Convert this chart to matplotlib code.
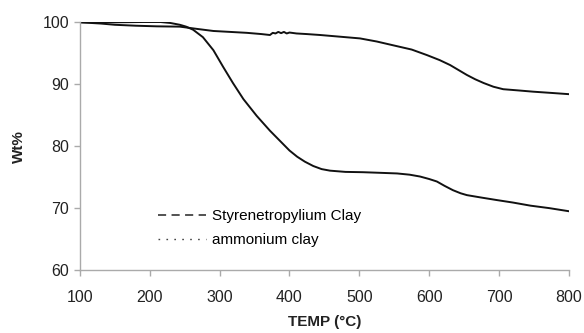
import numpy as np
import matplotlib.pyplot as plt
from matplotlib.lines import Line2D

plt.rcParams['font.family'] = ['Liberation Sans', 'DejaVu Sans']

# styrenetropylium clay (upper curve)
temp_a = [100, 130, 150, 180, 210, 243, 270, 291, 315, 339, 360, 372, 376, 380, 384,
          388, 392, 396, 400, 410, 425, 444, 470, 501, 525, 548, 575, 597, 615,
          630, 642, 654, 666, 678, 692, 706, 728, 749, 775, 800]
wt_a = [100.0, 99.8, 99.6, 99.45, 99.35, 99.3, 98.9, 98.6, 98.45, 98.3, 98.1, 97.95, 98.3, 98.2, 98.45,
        98.25, 98.45, 98.2, 98.35, 98.2, 98.1, 97.95, 97.7, 97.4, 96.9, 96.3, 95.6, 94.7, 93.9,
        93.1, 92.3, 91.5, 90.8, 90.2, 89.6, 89.2, 89.0, 88.8, 88.6, 88.4]

# ammonium clay (lower curve)
temp_b = [100, 150, 190, 215, 229, 243, 252, 262, 276, 291, 305, 319, 334, 353, 372,
          386, 400, 411, 422, 434, 446, 458, 480, 505, 530, 554, 572, 587, 600, 611,
          622, 634, 645, 654, 675, 697, 720, 745, 772, 800]
wt_b = [100.0, 100.0, 100.05, 100.05, 99.9, 99.6, 99.3, 98.8, 97.6, 95.5, 92.8, 90.2, 87.6, 84.9, 82.5,
        80.9, 79.3, 78.3, 77.5, 76.8, 76.3, 76.05, 75.85, 75.8, 75.7, 75.6, 75.4, 75.1, 74.7, 74.3,
        73.6, 72.9, 72.4, 72.1, 71.7, 71.3, 70.9, 70.4, 70.0, 69.5]

fig = plt.figure(figsize=(5.84, 3.33), dpi=100)
ax = fig.add_axes([0.137, 0.189, 0.837, 0.744])

ax.plot(temp_a, wt_a, color='#111111', lw=1.4, solid_joinstyle='round')
ax.plot(temp_b, wt_b, color='#111111', lw=1.4, solid_joinstyle='round')

ax.set_xlim(100, 800)
ax.set_ylim(60, 100)
ax.set_xticks(np.arange(100, 801, 100))
ax.set_yticks(np.arange(60, 101, 10))

for s in ['top', 'right']:
    ax.spines[s].set_visible(False)
for s in ['left', 'bottom']:
    ax.spines[s].set_color('#aaaaaa')
    ax.spines[s].set_linewidth(1.0)
ax.tick_params(colors='#aaaaaa', labelcolor='#222222', labelsize=11.5, length=4, width=1.0)
ax.tick_params(axis='x', pad=10.5)
ax.tick_params(axis='y', pad=4)

ax.set_xlabel('TEMP (\u00b0C)', fontweight='bold', fontsize=11, color='#222222', labelpad=7)
ax.set_ylabel('Wt%', fontweight='bold', fontsize=11, color='#222222', labelpad=12)

handles = [Line2D([], [], color='#444444', lw=1.3, linestyle=(0, (4.5, 3))),
           Line2D([], [], color='#444444', lw=1.0, linestyle=(0, (1.2, 4.5)))]
ax.legend(handles, ['Styrenetropylium Clay', 'ammonium clay'], loc='upper left',
          bbox_to_anchor=(0.16, 0.246), frameon=False, fontsize=11,
          handlelength=3.1, handletextpad=0.45, labelspacing=0.65,
          borderpad=0, borderaxespad=0)

fig.savefig('out.png', dpi=100)
